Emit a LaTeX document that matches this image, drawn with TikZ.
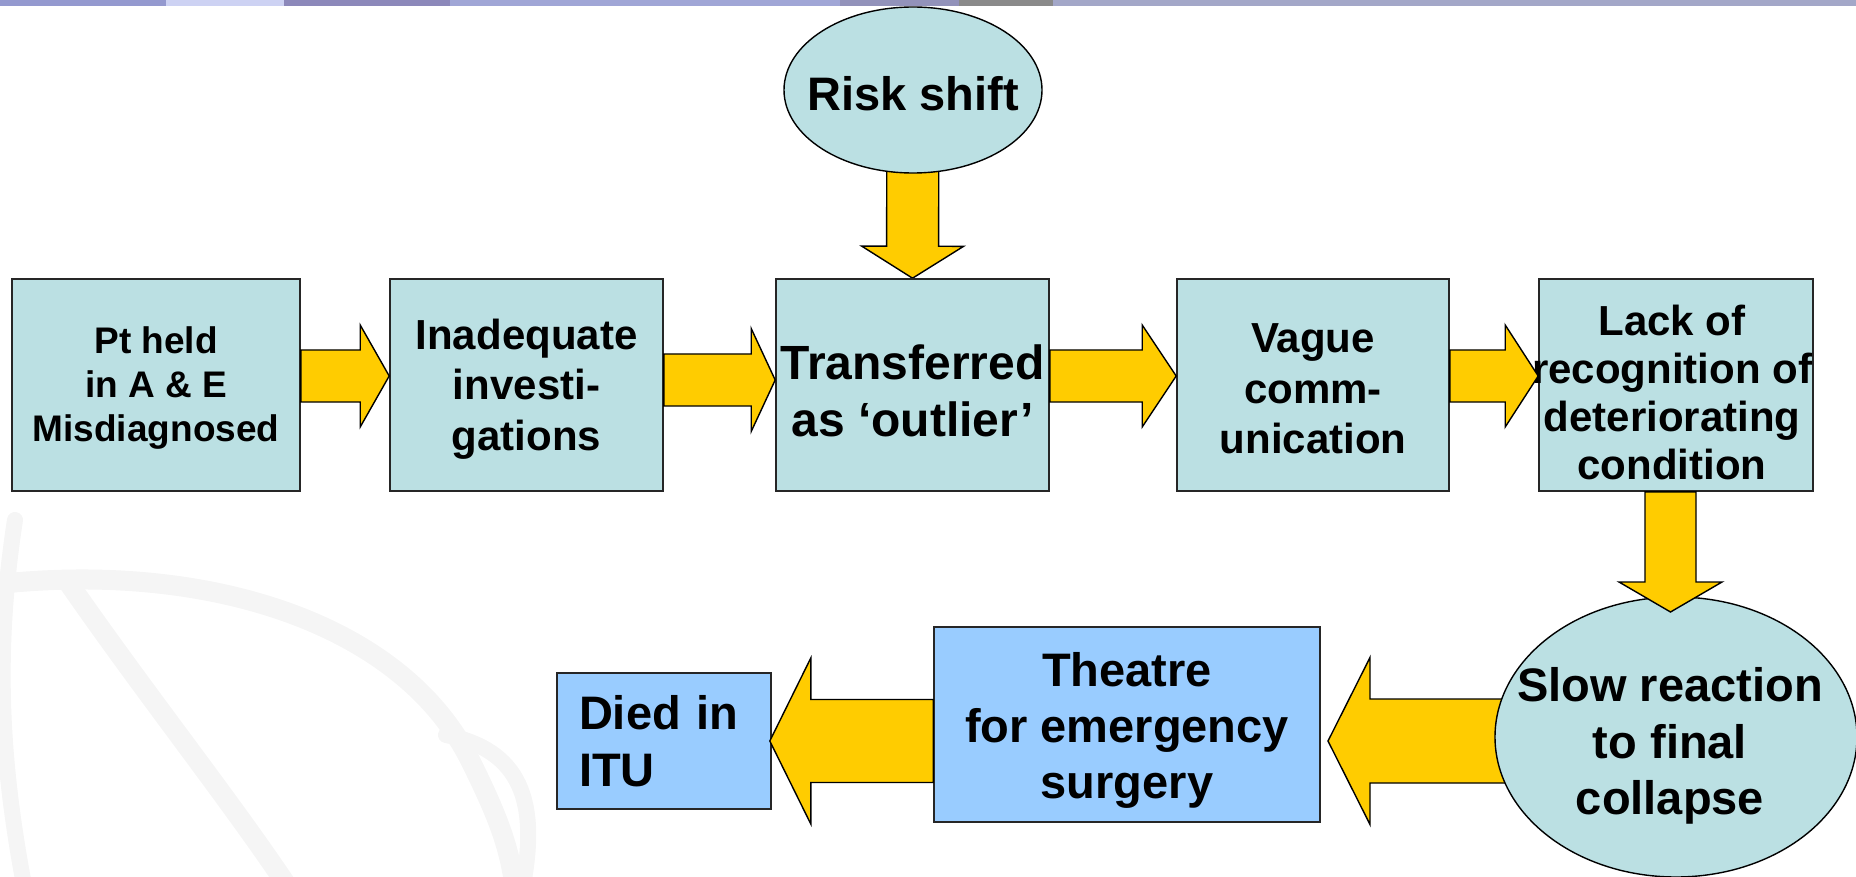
\documentclass[tikz,border=0pt]{standalone}
\usepackage{fontspec}
\setmainfont{Liberation Sans}
\usetikzlibrary{shapes.geometric,calc,backgrounds}
\definecolor{tealbox}{HTML}{BBE0E3}
\definecolor{bluebox}{HTML}{99CCFF}
\definecolor{arrowy}{HTML}{FFCC00}
\definecolor{wmark}{HTML}{F5F5F5}
% block arrow: from, to, half shaft, half head, head length
\newcommand\barrow[5]{%
  \draw[blockarrow] let \p1=(#1), \p2=(#2),
    \n1={atan2(\y2-\y1,\x2-\x1)}, \n2={veclen(\x2-\x1,\y2-\y1)} in
    [shift={(\p1)}, rotate=\n1]
    (0pt,#3pt) -- ({\n2*1pt-#5pt},#3pt) -- ({\n2*1pt-#5pt},#4pt) -- ({\n2*1pt},0pt)
    -- ({\n2*1pt-#5pt},-#4pt) -- ({\n2*1pt-#5pt},-#3pt) -- (0pt,-#3pt) -- cycle;}
\tikzset{
  box/.style={rectangle, draw=black!85, line width=1.6pt, fill=tealbox, inner sep=0pt,
              minimum height=212pt},
  bbox/.style={box, fill=bluebox},
  oval/.style={ellipse, draw=black, line width=1.4pt, fill=tealbox, inner sep=0pt},
  lab/.style={align=center, inner sep=0pt},
  fA/.style={font=\bfseries\fontsize{47}{56.4}\selectfont},
  fB/.style={font=\bfseries\fontsize{42}{50.4}\selectfont},
  fC/.style={font=\bfseries\fontsize{37}{44.4}\selectfont},
  fD/.style={font=\bfseries\fontsize{48}{57.6}\selectfont},
  blockarrow/.style={draw=black, line width=1.4pt, fill=arrowy, line join=miter},
  wm/.style={draw=wmark, line width=20pt, line cap=round},
}
\begin{document}
\begin{tikzpicture}[x=1pt,y=-1pt]
\useasboundingbox (0,0) rectangle (1856,877);
% top banner
\fill[fill={rgb,255:red,148;green,153;blue,207}] (0,0) rectangle (166,6);
\fill[fill={rgb,255:red,205;green,210;blue,243}] (166,0) rectangle (284,6);
\fill[fill={rgb,255:red,140;green,136;blue,186}] (284,0) rectangle (450,6);
\fill[fill={rgb,255:red,160;green,166;blue,214}] (450,0) rectangle (840,6);
\fill[fill={rgb,255:red,146;green,146;blue,186}] (840,0) rectangle (959,6);
\fill[fill={rgb,255:red,138;green,138;blue,138}] (959,0) rectangle (1053,6);
\fill[fill={rgb,255:red,163;green,167;blue,200}] (1053,0) rectangle (1856,6);

% nodes
\node[oval, minimum width=258pt, minimum height=166pt,
      label={[lab, fA, yshift=-4pt]center:Risk shift}] (risk) at (913,90) {};
\node[box, minimum width=288pt,
      label={[lab, fC, yshift=-3pt]center:Pt held\\in A \& E\\Misdiagnosed}] (b1) at (156,385) {};
\node[box, minimum width=273pt,
      label={[lab, fB, yshift=-4pt]center:Inadequate\\investi-\\gations}] (b2) at (526.5,385) {};
\node[box, minimum width=273pt,
      label={[lab, fD, yshift=-6pt]center:Transferred\\as ‘outlier’}] (b3) at (912.5,385) {};
\node[box, minimum width=272pt,
      label={[lab, fB, yshift=-4pt]center:Vague\\comm-\\unication}] (b4) at (1313,385) {};
\node[box, minimum width=274pt,
      label={[lab, yshift=-7pt, xshift=-4pt, font=\bfseries\fontsize{42}{48}\selectfont]center:Lack of\\recognition of\\deteriorating\\condition}] (b5) at (1676,385) {};
\node[oval, minimum width=362pt, minimum height=280pt,
      label={[lab, fA, xshift=-6pt, yshift=-9pt]center:Slow reaction\\to final\\collapse}] (slow) at (1676,737) {};
\node[bbox, minimum width=386pt, minimum height=195pt,
      label={[lab, fA, yshift=-6pt]center:Theatre\\for emergency\\surgery}] (th) at (1127,724.5) {};
\node[bbox, minimum width=214pt, minimum height=136pt, text width=170pt, inner xsep=22pt,
      align=left, fA] (died) at (664,741) {Died in\\ITU};

\coordinate (r1) at (0,376);
\coordinate (r2) at (0,380);
\coordinate (c5) at (1670.5,612);
\coordinate (t1) at (1328,741);

\begin{scope}[on background layer]
  % faint watermark
  \draw[wm] (-10,585) .. controls (200,560) and (400,620) .. (470,760)
            .. controls (500,820) and (510,850) .. (515,890);
  \draw[wm] (70,585) .. controls (150,700) and (230,800) .. (290,890);
  \draw[wm, line width=16pt] (446,735) .. controls (520,750) and (540,800) .. (522,890);
  \draw[wm, line width=16pt] (15,520) .. controls (-5,650) and (0,760) .. (25,890);
  % arrows hidden under shapes
  \barrow{risk.center}{b3.north}{26}{51}{32}
  \barrow{slow.center |- t1}{t1}{42}{83.5}{42}
\end{scope}

\barrow{b1.east |- r1}{b2.west |- r1}{26}{51}{29}
\barrow{b2.east |- r2}{b3.west |- r2}{26}{51.5}{24}
\barrow{b3.east |- r1}{b4.west |- r1}{26}{51}{34}
\barrow{b4.east |- r1}{b5.west |- r1}{26}{51}{33}
\barrow{b5.south -| c5}{c5}{25.5}{51.5}{30}
\barrow{th.west |- died.east}{$(died.east)+(-2,0)$}{41.5}{83}{41}
\end{tikzpicture}
\end{document}
